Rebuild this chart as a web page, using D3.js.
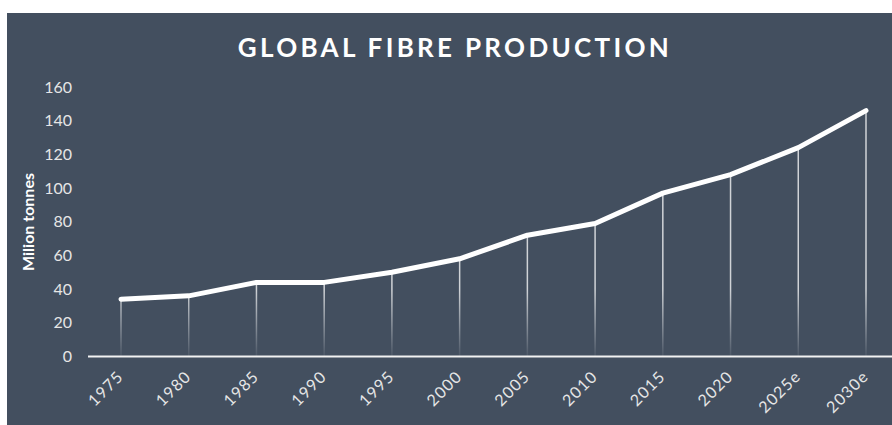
<!DOCTYPE html>
<meta charset="utf-8">
<script src="https://d3js.org/d3.v7.min.js"></script>
<style>
  body { margin: 0; background: #fff; }
  text { font-family: Lato, "Open Sans", sans-serif; }
</style>
<div id="chart"></div>
<script>
// data
var years = ["1975","1980","1985","1990","1995","2000","2005","2010","2015","2020","2025e","2030e"];
var production = [34, 36, 44, 44, 50, 58, 72, 79, 97, 108, 124, 146];
var yTicks = [0, 20, 40, 60, 80, 100, 120, 140, 160];

var W = 892, H = 425;
var svg = d3.select("#chart").append("svg")
    .attr("width", W)
    .attr("height", H);

// panel
svg.append("rect")
    .attr("x", 7).attr("y", 13)
    .attr("width", W - 7).attr("height", H - 13)
    .attr("fill", "#434f5f");

svg.append("text")
    .attr("x", 455).attr("y", 57)
    .attr("text-anchor", "middle")
    .attr("fill", "#fff")
    .style("font-size", "26px")
    .style("font-weight", "700")
    .style("letter-spacing", "3.3px")
    .text("GLOBAL FIBRE PRODUCTION");

var x = d3.scalePoint().domain(years).range([121, 866]);
var y = d3.scaleLinear().domain([0, 160]).range([356.5, 87]);

// fading drop lines
var defs = svg.append("defs");
var grad = defs.append("linearGradient")
    .attr("id", "fade")
    .attr("gradientUnits", "userSpaceOnUse")
    .attr("x1", 0).attr("x2", 0)
    .attr("y1", y(0)).attr("y2", y(40));
grad.append("stop").attr("offset", "0").attr("stop-color", "#fff").attr("stop-opacity", 0.05);
grad.append("stop").attr("offset", "1").attr("stop-color", "#fff").attr("stop-opacity", 0.75);

svg.append("g").selectAll("line")
  .data(years)
  .join("line")
    .attr("x1", function(d) { return x(d); })
    .attr("x2", function(d) { return x(d); })
    .attr("y1", function(d, i) { return y(production[i]); })
    .attr("y2", y(0))
    .attr("stroke", "url(#fade)")
    .attr("stroke-width", 1.5);

// baseline
svg.append("line")
    .attr("x1", 88).attr("x2", W)
    .attr("y1", y(0)).attr("y2", y(0))
    .attr("stroke", "#f2f2f2")
    .attr("stroke-width", 2);

// Y axis labels
var yAxis = svg.append("g")
    .attr("transform", "translate(72,0)")
    .call(d3.axisLeft(y).tickValues(yTicks).tickSize(0).tickPadding(0));
yAxis.select(".domain").remove();
yAxis.selectAll("text")
    .attr("fill", "#e6e6e6")
    .style("font-size", "16px")
    .style("font-family", "Lato, sans-serif");

svg.append("text")
    .attr("transform", "translate(34,222) rotate(-90)")
    .attr("text-anchor", "middle")
    .attr("fill", "#fff")
    .style("font-size", "16px")
    .style("font-weight", "700")
    .text("Milion tonnes");

// X axis labels
var xAxis = svg.append("g")
    .attr("transform", "translate(0," + y(0) + ")")
    .call(d3.axisBottom(x).tickSize(0).tickPadding(0));
xAxis.select(".domain").remove();
xAxis.selectAll("text")
    .attr("fill", "#e6e6e6")
    .style("font-size", "16px")
    .style("letter-spacing", "1.2px")
    .style("font-family", "Lato, sans-serif")
    .attr("text-anchor", "end")
    .attr("dy", 0)
    .attr("transform", "translate(3,21) rotate(-45)");

// the line
svg.append("path")
    .datum(production)
    .attr("fill", "none")
    .attr("stroke", "#fff")
    .attr("stroke-width", 5)
    .attr("stroke-linecap", "round")
    .attr("stroke-linejoin", "round")
    .attr("d", d3.line()
      .x(function(d, i) { return x(years[i]); })
      .y(function(d) { return y(d); }));
</script>
